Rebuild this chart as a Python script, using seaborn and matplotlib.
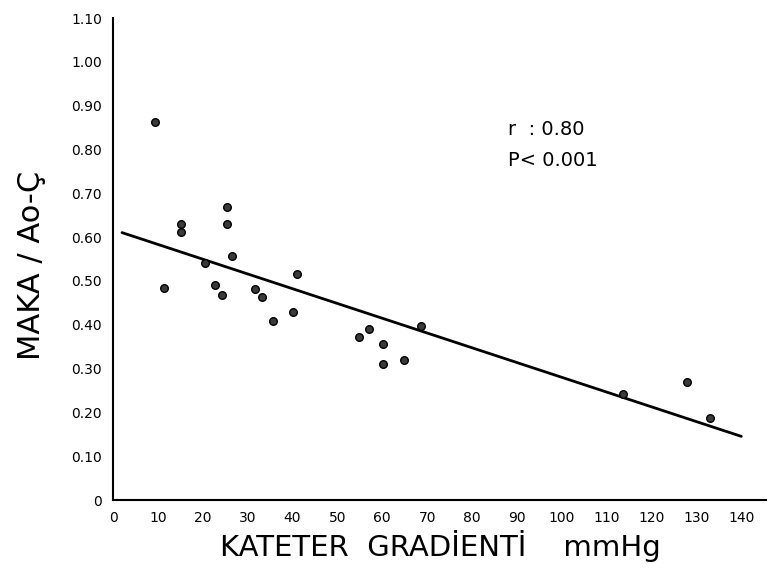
import matplotlib
matplotlib.use("Agg")
import matplotlib.pyplot as plt
import seaborn as sns
import numpy as np
import pandas as pd

# data
gradient = [9.4, 11.3, 15.2, 15.2, 20.5, 22.8, 24.2, 25.3, 25.3, 26.6, 31.7, 33.2,
            35.6, 40.2, 41.1, 54.8, 57.1, 60.2, 60.2, 64.9, 68.6, 113.6, 128.0, 133.1]
ratio = [0.863, 0.483, 0.630, 0.612, 0.540, 0.490, 0.467, 0.668, 0.630, 0.557, 0.482, 0.464,
         0.409, 0.428, 0.516, 0.373, 0.391, 0.356, 0.310, 0.320, 0.396, 0.243, 0.269, 0.187]
fit_intercept = 0.617
fit_slope = -0.00337
fit_range = [2, 140]
x_ticks = [0, 10, 20, 30, 40, 50, 60, 70, 80, 90, 100, 110, 120, 130, 140]
y_ticks = [0, 0.10, 0.20, 0.30, 0.40, 0.50, 0.60, 0.70, 0.80, 0.90, 1.00, 1.10]
y_tick_labels = ["0", "0.10", "0.20", "0.30", "0.40", "0.50", "0.60", "0.70",
                 "0.80", "0.90", "1.00", "1.10"]

sns.set_theme(style="white")
plt.rcParams['font.family'] = ['DejaVu Sans']

fig = plt.figure(figsize=(7.76, 5.76), dpi=100)
ax = fig.add_axes([113/776, 1 - 500/576, (766 - 113)/776, (500 - 18)/576])

df = pd.DataFrame({"x": gradient, "y": ratio})
sns.scatterplot(data=df, x="x", y="y", ax=ax, s=30, color="#3a3a3a",
                edgecolor="black", linewidth=1.0, zorder=3)

fx = np.array(fit_range, dtype=float)
ax.plot(fx, fit_intercept + fit_slope * fx, color="black", lw=2.0, zorder=2)

ax.set_xlim(0, 145.5)
ax.set_ylim(0, 1.10)
ax.set_xticks(x_ticks)
ax.set_xticklabels([str(v) for v in x_ticks], fontsize=10)
ax.set_yticks(y_ticks)
ax.set_yticklabels(y_tick_labels, fontsize=10)
ax.tick_params(axis="both", direction="out", length=4, width=1, colors="black", pad=4)
for s in ["top", "right"]:
    ax.spines[s].set_visible(False)
for s in ["left", "bottom"]:
    ax.spines[s].set_color("black")
    ax.spines[s].set_linewidth(1.5)

ax.set_xlabel("KATETER  GRADİENTİ    mmHg", fontsize=21, color="black")
ax.set_ylabel("MAKA / Ao-Ç", fontsize=22, color="black")
ax.xaxis.set_label_coords((440 - 113) / 653, -(530 - 500) / 482)
ax.yaxis.set_label_coords((46 - 113) / 653, (500 - 265) / 482)

ax.text(88, 0.845, "r  : 0.80", fontsize=14, color="black", va="center")
ax.text(88, 0.775, "P< 0.001", fontsize=14, color="black", va="center")

fig.savefig("out.png", dpi=100)
